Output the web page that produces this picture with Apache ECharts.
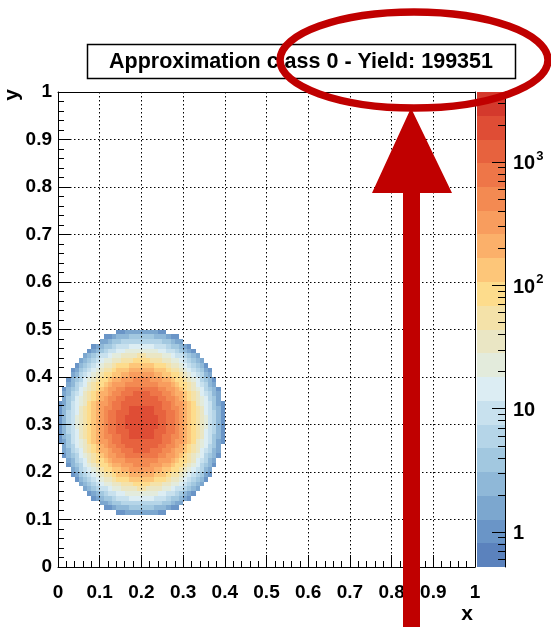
<!DOCTYPE html>
<html><head><meta charset="utf-8">
<script src="https://cdn.jsdelivr.net/npm/echarts@6/dist/echarts.min.js"></script>
<style>html,body{margin:0;padding:0;background:#fff}#c{width:551px;height:627px}</style>
</head><body><div id="c"></div>
<script>
// ---------------- data ----------------
const titleText = 'Approximation class 0 - Yield: 199351';
const xTitle = 'x';
const yTitle = 'y';
const binSize = 0.01;          // 100 x 100 bins on [0,1] x [0,1]
const firstRow = 11;           // y-bin index of the lowest filled row
// first filled x-bin of every row (rows 11 .. 49)
const rowStart = [14,11,10,8,7,6,5,4,3,3,2,2,1,1,1,0,0,0,0,0,0,0,0,0,1,1,1,2,2,3,3,4,5,6,7,8,10,11,14];
// colour level of every filled cell (0..9,A..J = level 0..19 of the 20-level palette)
const rowLevels = [
  '112222222211',
  '112333444444333211',
  '22344555555555544322',
  '123445666777777666544321',
  '12345667788888888776654321',
  '2345667889999AA9999887665432',
  '2345678899AAABBBBAAA9988765432',
  '134567899ABBBCCCCCCBBBA998765431',
  '12456789AABCCCDDDDDDCCCBAA98765421',
  '2356789ABBCCDDEEEEEEDDCCBBA9876532',
  '1345789ABBCDDEEEFFFFEEEDDCBBA9875431',
  '235679ABBCDEEEFFFFFFFFEEEDCBBA976532',
  '1345789ABCDEEFFGGGGGGGGFFEEDCBA9875431',
  '235679ABCDDEFFGGGHHHHGGGFFEDDCBA976532',
  '245789ABCDEFFGGHHHHHHHHGGFFEDCBA987542',
  '1246789BCDEEFGGHHHHHHHHHHGGFEEDCB9876421',
  '134679ABCDEFFGGHHIIIIIIHHGGFFEDCBA976431',
  '135679ABCDEFGGHHHIIIIIIHHHGGFEDCBA976531',
  '135689ABCDEFGGHHIIIIIIIIHHGGFEDCBA986531',
  '135689ABCDEFGGHHIIIIIIIIHHGGFEDCBA986531',
  '135689ABCDEFGGHHIIIIIIIIHHGGFEDCBA986531',
  '135679ABCDEFGGHHHIIIIIIHHHGGFEDCBA976531',
  '134679ABCDEFFGGHHIIIIIIHHGGFFEDCBA976431',
  '1246789BCDEEFGGHHHHHHHHHHGGFEEDCB9876421',
  '245789ABCDEFFGGHHHHHHHHGGFFEDCBA987542',
  '235679ABCDDEFFGGGHHHHGGGFFEDDCBA976532',
  '1345789ABCDEEFFGGGGGGGGFFEEDCBA9875431',
  '235679ABBCDEEEFFFFFFFFEEEDCBBA976532',
  '1345789ABBCDDEEEFFFFEEEDDCBBA9875431',
  '2356789ABBCCDDEEEEEEDDCCBBA9876532',
  '12456789AABCCCDDDDDDCCCBAA98765421',
  '134567899ABBBCCCCCCBBBA998765431',
  '2345678899AAABBBBAAA9988765432',
  '2345667889999AA9999887665432',
  '12345667788888888776654321',
  '123445666777777666544321',
  '22344555555555544322',
  '112333444444333211',
  '112222222211'
];
const levelCode = '0123456789ABCDEFGHIJ';
// log10 of the lowest z edge and the log10 width of one colour level
const zLogMin = -0.285;
const zLogStep = 0.1925;
const levelColors = ['#5b82bd','#6a95c7','#7ca7cf','#8fb8d8','#a2c8e0','#b5d5e8','#c8e1ee','#dcedf3',
  '#e3ebdc','#eae6c4','#f4e2a9','#fddc8c','#fdc679','#fbb06a','#f89d5e','#f38a52',
  '#ee7648','#e7623e','#df4d35','#d4392c'];
const zMajorTicks = [1, 10, 100, 1000];
const zMinorTicks = [0.6,0.7,0.8,0.9,2,3,4,5,6,7,8,9,20,30,40,50,60,70,80,90,
  200,300,400,500,600,700,800,900,2000,3000];

// ---------------- build series data ----------------
const lvlVal = n => Math.pow(10, zLogMin + (n + 0.5) * zLogStep);
const lvlLo = n => Math.pow(10, zLogMin + n * zLogStep);
const cells = [];
rowLevels.forEach((s, r) => {
  const j = firstRow + r;
  for (let k = 0; k < s.length; k++) {
    const lvl = levelCode.indexOf(s[k]);
    const i = rowStart[r] + k;
    cells.push([+(i * binSize).toFixed(2), +(j * binSize).toFixed(2), +lvlVal(lvl).toFixed(3)]);
  }
});
const barData = levelColors.map((c, n) => [0.5, lvlLo(n), lvlVal(n), lvlLo(n + 1)]);
const tickData = zMajorTicks.map(v => [1, v, 13]).concat(zMinorTicks.map(v => [1, v, 7]));
const pieces = levelColors.map((c, n) => ({ gte: lvlLo(n), lt: lvlLo(n + 1), color: c }));

const FONT = '"Liberation Sans", Arial, Helvetica, sans-serif';
const lab = { fontSize: 19, fontWeight: 'bold', color: '#000', fontFamily: FONT };
const blk = { color: '#000', width: 1 };
const dots = { color: '#000', width: 1, type: [1.5, 2.5] };

const chart = echarts.init(document.getElementById('c'), null, { renderer: 'canvas' });
chart.setOption({
  animation: false,
  backgroundColor: '#fff',
  grid: [
    { left: 58, top: 92, width: 417, height: 475 },
    { left: 477, top: 92, width: 28, height: 475 }
  ],
  xAxis: [
    { gridIndex: 0, type: 'value', min: 0, max: 1, interval: 0.1, position: 'bottom', z: 5,
      axisLine: { show: true, onZero: false, lineStyle: blk },
      axisTick: { show: true, inside: true, length: 12, lineStyle: blk },
      minorTick: { show: true, splitNumber: 5, length: 6, lineStyle: blk },
      splitLine: { show: true, lineStyle: dots },
      axisLabel: Object.assign({ margin: 16 }, lab) },
    { gridIndex: 1, type: 'value', min: 0, max: 1, show: false },
    { gridIndex: 0, type: 'value', min: 0, max: 1, position: 'top', z: 5,
      axisLine: { show: true, onZero: false, lineStyle: blk },
      axisTick: { show: false }, axisLabel: { show: false }, splitLine: { show: false } }
  ],
  yAxis: [
    { gridIndex: 0, type: 'value', min: 0, max: 1, interval: 0.1, position: 'left', z: 5,
      axisLine: { show: true, onZero: false, lineStyle: blk },
      axisTick: { show: true, inside: true, length: 12, lineStyle: blk },
      minorTick: { show: true, splitNumber: 5, length: 6, lineStyle: blk },
      splitLine: { show: true, lineStyle: dots },
      axisLabel: Object.assign({ margin: 6 }, lab) },
    { gridIndex: 1, type: 'log', logBase: 10, min: lvlLo(0), max: lvlLo(levelColors.length), position: 'right', z: 5,
      axisLine: { show: true, onZero: false, lineStyle: blk },
      axisTick: { show: false }, splitLine: { show: false }, minorTick: { show: false },
      axisLabel: { margin: 8, showMinLabel: false, showMaxLabel: false,
        formatter: v => {
          const p = Math.log10(v), n = Math.round(p);
          if (Math.abs(p - n) > 1e-6) return '';
          if (n === 0) return '{b|1}';
          if (n === 1) return '{b|10}';
          return '{b|10}{s|' + n + '}';
        },
        rich: {
          b: { fontSize: 20, fontWeight: 'bold', color: '#000', fontFamily: FONT, lineHeight: 24, verticalAlign: 'bottom' },
          s: { fontSize: 13, fontWeight: 'bold', color: '#000', fontFamily: FONT, lineHeight: 24, verticalAlign: 'top', padding: [0, 0, 9, 1] }
        } } },
    { gridIndex: 0, type: 'value', min: 0, max: 1, position: 'right', z: 5,
      axisLine: { show: true, onZero: false, lineStyle: blk },
      axisTick: { show: false }, axisLabel: { show: false }, splitLine: { show: false } }
  ],
  visualMap: {
    type: 'piecewise', show: false, dimension: 2, seriesIndex: [0, 1], pieces: pieces
  },
  series: [
    { name: 'class 0', type: 'custom', xAxisIndex: 0, yAxisIndex: 0, data: cells, z: 2,
      renderItem: (params, api) => {
        const x = api.value(0), y = api.value(1);
        const a = api.coord([x, y + binSize]);
        const b = api.coord([x + binSize, y]);
        const x0 = Math.round(a[0]), y0 = Math.round(a[1]);
        return { type: 'rect', shape: { x: x0, y: y0, width: Math.round(b[0]) - x0, height: Math.round(b[1]) - y0 },
          style: { fill: api.visual('color') } };
      } },
    { name: 'palette', type: 'custom', xAxisIndex: 1, yAxisIndex: 1, data: barData, z: 2,
      renderItem: (params, api) => {
        const a = api.coord([0, api.value(3)]);
        const b = api.coord([1, api.value(1)]);
        const y0 = Math.round(a[1]);
        return { type: 'rect', shape: { x: a[0], y: y0, width: b[0] - a[0], height: Math.round(b[1]) - y0 },
          style: { fill: api.visual('color') } };
      } },
    { name: 'zticks', type: 'custom', xAxisIndex: 1, yAxisIndex: 1, data: tickData, z: 6,
      renderItem: (params, api) => {
        const p = api.coord([api.value(0), api.value(1)]);
        const y = Math.round(p[1]) + 0.5;
        return { type: 'line', shape: { x1: p[0] - api.value(2), y1: y, x2: p[0], y2: y },
          style: { stroke: '#000', lineWidth: 1 } };
      } }
  ],
  graphic: [
    { type: 'rect', shape: { x: 87.5, y: 44.5, width: 428, height: 34 }, style: { fill: '#fff', stroke: '#000', lineWidth: 1.5 }, z: 10 },
    { type: 'text', x: 301, y: 62, z: 11,
      style: { text: titleText, fontSize: 21.5, fontWeight: 'bold', fontFamily: FONT, fill: '#000',
        align: 'center', verticalAlign: 'middle', textAlign: 'center', textVerticalAlign: 'middle' } },
    { type: 'text', x: 473, y: 614, z: 11,
      style: { text: xTitle, fontSize: 21, fontWeight: 'bold', fontFamily: FONT, fill: '#000',
        align: 'right', verticalAlign: 'middle', textAlign: 'right', textVerticalAlign: 'middle' } },
    { type: 'text', x: 12, y: 89, rotation: Math.PI / 2, z: 11,
      style: { text: yTitle, fontSize: 21, fontWeight: 'bold', fontFamily: FONT, fill: '#000',
        align: 'right', verticalAlign: 'middle', textAlign: 'right', textVerticalAlign: 'middle' } },
    { type: 'ellipse', shape: { cx: 414, cy: 60, rx: 134, ry: 48 }, z: 100,
      style: { fill: 'none', stroke: '#c00000', lineWidth: 7.5 } },
    { type: 'polygon', z: 100,
      shape: { points: [[372, 193], [411, 108], [452, 193], [420, 193], [420, 627], [403, 627], [403, 193]] },
      style: { fill: '#c00000' } }
  ]
});
</script>
</body></html>
